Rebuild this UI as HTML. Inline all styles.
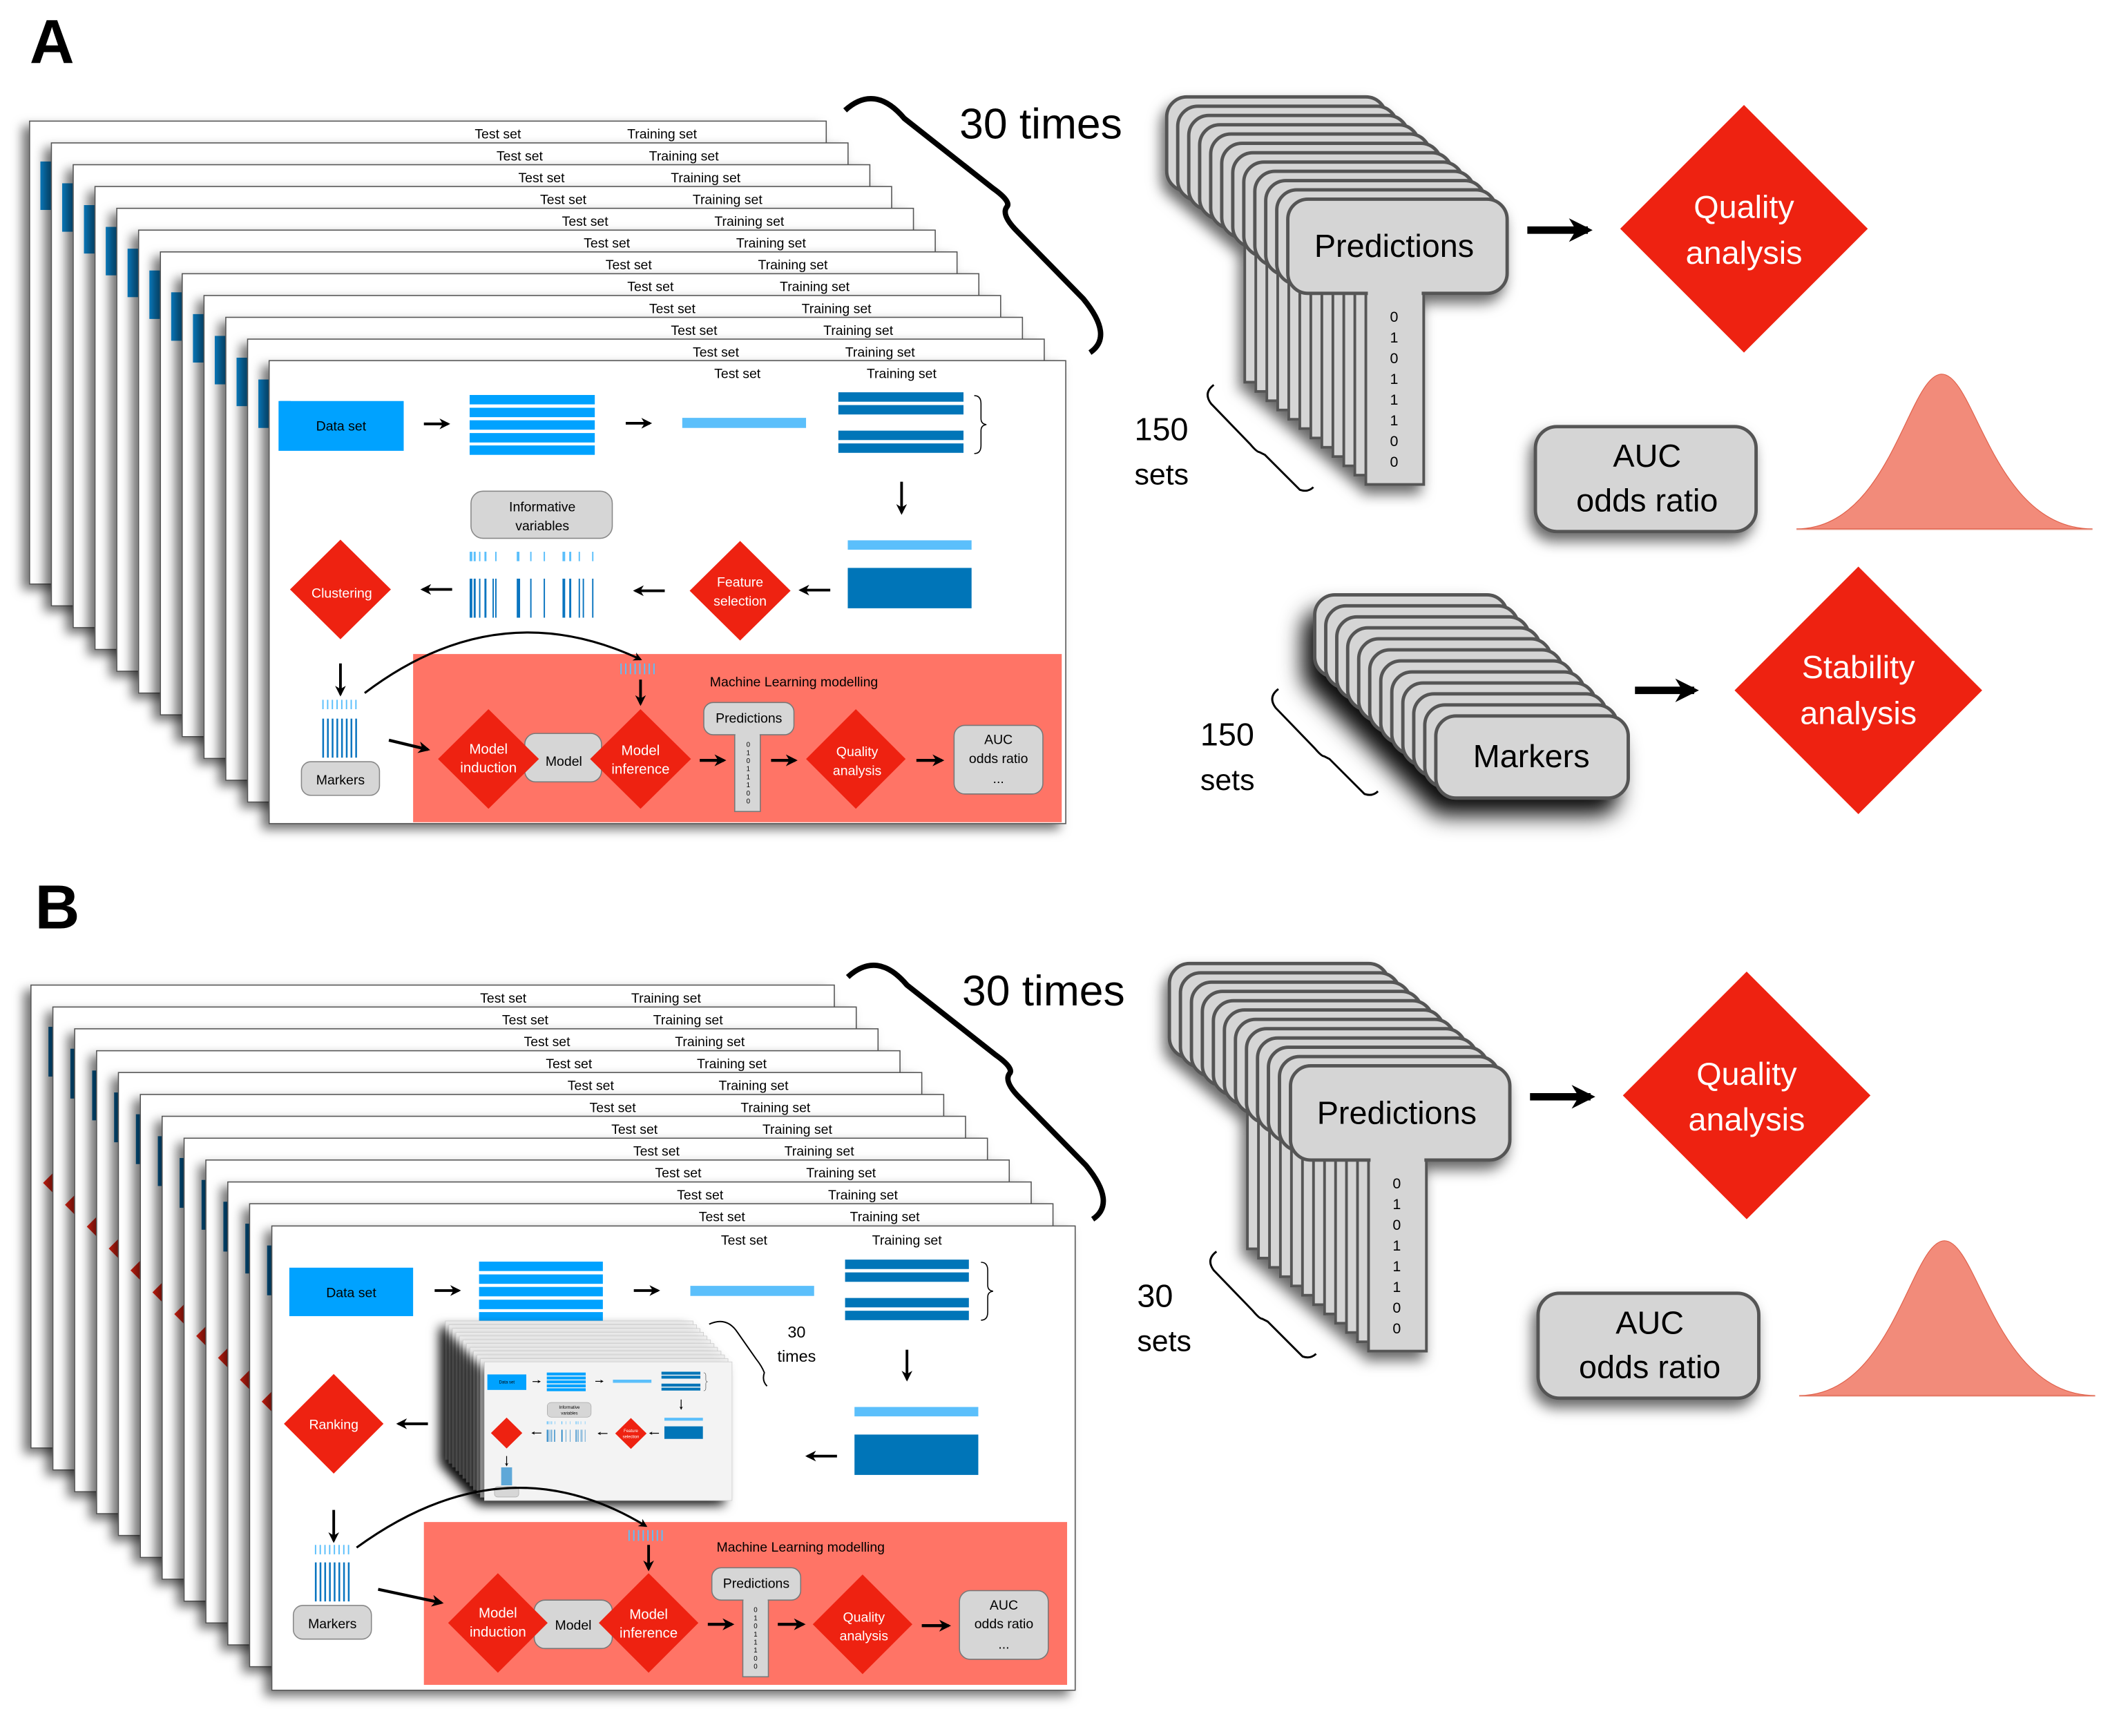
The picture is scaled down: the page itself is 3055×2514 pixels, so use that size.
<!DOCTYPE html>
<html><head><meta charset="utf-8">
<style>
html,body{margin:0;padding:0;background:#fff;}
svg{display:block;}
text{font-family:"Liberation Sans",sans-serif;}
</style></head>
<body>
<svg width="3055" height="2514" viewBox="0 0 1568 1290" preserveAspectRatio="none" xmlns="http://www.w3.org/2000/svg">
<defs>
<filter id="sh" x="-10%" y="-10%" width="120%" height="125%">
<feDropShadow dx="-5" dy="4" stdDeviation="4" flood-color="#000" flood-opacity="0.55"/>
</filter>
<filter id="sh2" x="-30%" y="-30%" width="160%" height="170%">
<feDropShadow dx="-3" dy="6" stdDeviation="5" flood-color="#000" flood-opacity="0.6"/>
</filter>
<filter id="sh3" x="-40%" y="-40%" width="180%" height="190%">
<feDropShadow dx="-8" dy="12" stdDeviation="8" flood-color="#000" flood-opacity="0.95"/>
</filter>
<marker id="ah" viewBox="0 0 10 10" refX="8" refY="5" markerWidth="4" markerHeight="4" orient="auto" markerUnits="strokeWidth">
<path d="M0,0 L10,5 L0,10 L3,5 Z" fill="#000"/>
</marker>
<marker id="ah2" viewBox="0 0 10 10" refX="8" refY="5" markerWidth="3.2" markerHeight="3.2" orient="auto" markerUnits="strokeWidth">
<path d="M0,0 L10,5 L0,10 L3,5 Z" fill="#000"/>
</marker>
<g id="cardA">
<rect x="0" y="0" width="592" height="344" fill="#fff" stroke="#555" stroke-width="0.8" filter="url(#sh)"/>
<rect x="8" y="30" width="8" height="36" fill="#0a86d0"/>
<text x="348" y="13" font-size="10" text-anchor="middle">Test  set</text>
<text x="470" y="13" font-size="10" text-anchor="middle">Training set</text>
</g>
<g id="cardB">
<rect x="0" y="0" width="597" height="344" fill="#fff" stroke="#555" stroke-width="0.8" filter="url(#sh)"/>
<rect x="13" y="31" width="4" height="37" fill="#0068a8"/>
<polygon points="46,110 83,147 46,184 9,147" fill="#e62212"/>
<text x="351" y="13" font-size="10" text-anchor="middle">Test  set</text>
<text x="472" y="13" font-size="10" text-anchor="middle">Training set</text>
</g>
<g id="pred">
<rect x="58" y="60" width="43" height="152" fill="#d5d5d5" stroke="#555" stroke-width="2"/>
<rect x="0" y="0" width="163" height="70" rx="15" fill="#d5d5d5" stroke="#555" stroke-width="2.5"/>
<rect x="59.5" y="66" width="40" height="8" fill="#d5d5d5"/>
</g>
<g id="mark">
<rect x="0" y="0" width="143" height="61" rx="15" fill="#d5d5d5" stroke="#555" stroke-width="2.5"/>
</g>
<g id="miniCard">
<rect x="0" y="0" width="184" height="103" fill="#f3f3f3" stroke="#ccc" stroke-width="0.4" filter="url(#sh)"/>
</g>
<g id="topA">
<rect x="207" y="298" width="93" height="37" fill="#00a2ff"/>
<text x="253.5" y="320" font-size="10" text-anchor="middle">Data set</text>
<line x1="315" y1="315" x2="333" y2="315" stroke="#000" stroke-width="2" marker-end="url(#ah)"/>
<g fill="#00a2ff">
<rect x="349" y="293.5" width="93" height="7"/><rect x="349" y="303" width="93" height="7"/><rect x="349" y="312.3" width="93" height="7"/><rect x="349" y="321.8" width="93" height="7"/><rect x="349" y="331" width="93" height="7"/>
</g>
<line x1="465" y1="314.5" x2="483" y2="314.5" stroke="#000" stroke-width="2" marker-end="url(#ah)"/>
<rect x="507" y="310.5" width="92" height="7.5" fill="#5bbffb"/>
<g fill="#0075b8">
<rect x="623" y="291.5" width="93" height="7"/><rect x="623" y="301" width="93" height="7"/><rect x="623" y="320" width="93" height="7"/><rect x="623" y="329.5" width="93" height="7"/>
</g>
<path d="M724,294 Q729,294 729,300 L729,311 Q729,315 733,315.5 Q729,316 729,320 L729,331 Q729,337 724,337" fill="none" stroke="#000" stroke-width="0.8"/>
<line x1="670" y1="358" x2="670" y2="381" stroke="#000" stroke-width="2" marker-end="url(#ah)"/>
<rect x="630" y="401.5" width="92" height="7" fill="#5bbffb"/>
<rect x="630" y="422" width="92" height="30" fill="#0075b8"/>
<line x1="617" y1="438.5" x2="595" y2="438.5" stroke="#000" stroke-width="2" marker-end="url(#ah)"/>
<polygon points="550,402 587.5,439 550,476 512.5,439" fill="#ee2211"/>
<text x="550" y="436" font-size="10" fill="#fff" text-anchor="middle">Feature</text>
<text x="550" y="450" font-size="10" fill="#fff" text-anchor="middle">selection</text>
<line x1="494" y1="439" x2="472" y2="439" stroke="#000" stroke-width="2" marker-end="url(#ah)"/>
<rect x="350" y="365" width="105" height="35" rx="9" fill="#d6d6d6" stroke="#888" stroke-width="0.8"/>
<text x="403" y="380" font-size="10" text-anchor="middle">Informative</text>
<text x="403" y="394" font-size="10" text-anchor="middle">variables</text>
<g fill="#5bbffb">
<rect x="349" y="410" width="2" height="7"/><rect x="352" y="410" width="1.5" height="7"/><rect x="356" y="410" width="1" height="7"/><rect x="360" y="410" width="1.5" height="7"/><rect x="368" y="410" width="1" height="7"/><rect x="384" y="410" width="2" height="7"/><rect x="394" y="410" width="1" height="7"/><rect x="404" y="410" width="1" height="7"/><rect x="418" y="410" width="2" height="7"/><rect x="423" y="410" width="1.5" height="7"/><rect x="430" y="410" width="1" height="7"/><rect x="440" y="410" width="1" height="7"/>
</g>
<g fill="#0a75c0">
<rect x="349" y="430" width="2" height="29"/><rect x="352" y="430" width="1.5" height="29"/><rect x="356" y="430" width="1" height="29"/><rect x="360" y="430" width="1.5" height="29"/><rect x="366" y="430" width="1" height="29"/><rect x="368" y="430" width="1" height="29"/><rect x="384" y="430" width="2.5" height="29"/><rect x="394" y="430" width="1" height="29"/><rect x="404" y="430" width="1" height="29"/><rect x="418" y="430" width="2" height="29"/><rect x="423" y="430" width="1.5" height="29"/><rect x="430" y="430" width="1" height="29"/><rect x="433" y="430" width="1" height="29"/><rect x="440" y="430" width="1" height="29"/>
</g>
<line x1="336" y1="438" x2="314" y2="438" stroke="#000" stroke-width="2" marker-end="url(#ah)"/>
</g>
<g id="bigBrace">
<path d="M628,82 Q650,62 672,88 L738,140 Q752,150 748,154 Q744,160 756,172 L805,222 Q828,250 810,262" fill="none" stroke="#000" stroke-width="4"/>
</g>
<g id="smallBrace">
<path d="M0,0 Q-8,6 -2,14 L27,44 Q32,50 34,50 Q34,50 38,52 L64,78 Q70,80 74,76" fill="none" stroke="#000" stroke-width="1.5"/>
</g>
<path id="gauss" d="M1335,393 C1405,393 1418,278 1443,278 C1468,278 1481,393 1555,393 Z"/>
</defs>

<!-- ================= PANEL A ================= -->
<text x="22" y="47" font-size="46" font-weight="bold">A</text>

<use href="#cardA" x="22" y="90"/>
<use href="#cardA" x="38.2" y="106.2"/>
<use href="#cardA" x="54.4" y="122.4"/>
<use href="#cardA" x="70.6" y="138.6"/>
<use href="#cardA" x="86.8" y="154.8"/>
<use href="#cardA" x="103" y="171"/>
<use href="#cardA" x="119.2" y="187.2"/>
<use href="#cardA" x="135.4" y="203.4"/>
<use href="#cardA" x="151.6" y="219.6"/>
<use href="#cardA" x="167.8" y="235.8"/>
<use href="#cardA" x="184" y="252"/>
<use href="#cardA" x="200" y="268"/>
<use href="#topA"/>

<polygon points="253,401 290.5,438 253,475 215.5,438" fill="#ee2211"/>
<text x="254" y="444" font-size="10" fill="#fff" text-anchor="middle">Clustering</text>
<line x1="253" y1="493" x2="253" y2="516" stroke="#000" stroke-width="2" marker-end="url(#ah)"/>
<g fill="#5bbffb"><rect x="239.5" y="520" width="1" height="7"/><rect x="243" y="520" width="1" height="7"/><rect x="246.5" y="520" width="1" height="7"/><rect x="250" y="520" width="1" height="7"/><rect x="253.5" y="520" width="1" height="7"/><rect x="257" y="520" width="1" height="7"/><rect x="260.5" y="520" width="1" height="7"/><rect x="264" y="520" width="1" height="7"/></g>
<g fill="#0a75c0"><rect x="239.5" y="534" width="1.3" height="29"/><rect x="243" y="534" width="1.3" height="29"/><rect x="246.5" y="534" width="1.3" height="29"/><rect x="250" y="534" width="1.3" height="29"/><rect x="253.5" y="534" width="1.3" height="29"/><rect x="257" y="534" width="1.3" height="29"/><rect x="260.5" y="534" width="1.3" height="29"/><rect x="264" y="534" width="1.3" height="29"/></g>
<rect x="224" y="566" width="58" height="25" rx="7" fill="#d6d6d6" stroke="#888" stroke-width="0.8"/>
<text x="253" y="583" font-size="10" text-anchor="middle">Markers</text>
<rect x="307" y="486" width="482" height="125" fill="#ff7466"/>
<path d="M271,515 Q370,440 476,490" fill="none" stroke="#000" stroke-width="1.6" marker-end="url(#ah)"/>
<g fill="#5bbffb"><rect x="461" y="493" width="1" height="8"/><rect x="464.5" y="493" width="1" height="8"/><rect x="468" y="493" width="1" height="8"/><rect x="471.5" y="493" width="1" height="8"/><rect x="475" y="493" width="1" height="8"/><rect x="478.5" y="493" width="1" height="8"/><rect x="482" y="493" width="1" height="8"/><rect x="485.5" y="493" width="1" height="8"/></g>
<line x1="476" y1="505" x2="476" y2="523" stroke="#000" stroke-width="2" marker-end="url(#ah)"/>
<text x="590" y="510" font-size="10" text-anchor="middle">Machine Learning modelling</text>
<line x1="289" y1="550" x2="318" y2="557" stroke="#000" stroke-width="2.2" marker-end="url(#ah)"/>
<rect x="390" y="545" width="57" height="36" rx="8" fill="#d6d6d6" stroke="#777" stroke-width="0.8"/>
<text x="419" y="569" font-size="10" text-anchor="middle">Model</text>
<polygon points="363,527 400.5,564 363,601 325.5,564" fill="#ee2211"/>
<text x="363" y="560" font-size="10.5" fill="#fff" text-anchor="middle">Model</text>
<text x="363" y="574" font-size="10.5" fill="#fff" text-anchor="middle">induction</text>
<polygon points="476,527 513.5,564 476,601 438.5,564" fill="#ee2211"/>
<text x="476" y="561" font-size="10.5" fill="#fff" text-anchor="middle">Model</text>
<text x="476" y="575" font-size="10.5" fill="#fff" text-anchor="middle">inference</text>
<line x1="520" y1="565" x2="538" y2="565" stroke="#000" stroke-width="2.2" marker-end="url(#ah)"/>
<rect x="546" y="540" width="19" height="63" fill="#d6d6d6" stroke="#777" stroke-width="0.8"/>
<rect x="523" y="522" width="67" height="24" rx="7" fill="#d6d6d6" stroke="#777" stroke-width="0.8"/>
<rect x="546.5" y="543" width="18" height="5" fill="#d6d6d6"/>
<text x="556.5" y="537" font-size="10" text-anchor="middle">Predictions</text>
<g font-size="5" text-anchor="middle"><text x="556" y="555">0</text><text x="556" y="561">1</text><text x="556" y="567">0</text><text x="556" y="573">1</text><text x="556" y="579">1</text><text x="556" y="585">1</text><text x="556" y="591">0</text><text x="556" y="597">0</text></g>
<line x1="573" y1="565" x2="591" y2="565" stroke="#000" stroke-width="2.2" marker-end="url(#ah)"/>
<polygon points="636,527 673,564 636,601 599,564" fill="#ee2211"/>
<text x="637" y="562" font-size="10" fill="#fff" text-anchor="middle">Quality</text>
<text x="637" y="576" font-size="10" fill="#fff" text-anchor="middle">analysis</text>
<line x1="681" y1="565" x2="700" y2="565" stroke="#000" stroke-width="2.2" marker-end="url(#ah)"/>
<rect x="709" y="539" width="66" height="51" rx="8" fill="#d6d6d6" stroke="#777" stroke-width="0.8"/>
<text x="742" y="553" font-size="10" text-anchor="middle">AUC</text>
<text x="742" y="567" font-size="10" text-anchor="middle">odds ratio</text>
<text x="742" y="582" font-size="10" text-anchor="middle">...</text>

<use href="#bigBrace"/>
<text x="713" y="103" font-size="32">30 times</text>

<g filter="url(#sh2)">
<use href="#pred" x="867" y="72"/>
<use href="#pred" x="875.2" y="78.9"/>
<use href="#pred" x="883.4" y="85.8"/>
<use href="#pred" x="891.5" y="92.7"/>
<use href="#pred" x="899.7" y="99.6"/>
<use href="#pred" x="907.9" y="106.5"/>
<use href="#pred" x="916.1" y="113.5"/>
<use href="#pred" x="924.3" y="120.4"/>
<use href="#pred" x="932.5" y="127.3"/>
<use href="#pred" x="940.6" y="134.2"/>
<use href="#pred" x="948.8" y="141.1"/>
<use href="#pred" x="957" y="148"/>
</g>
<text x="1036" y="191" font-size="24" text-anchor="middle">Predictions</text>
<g font-size="11" text-anchor="middle"><text x="1036" y="239">0</text><text x="1036" y="254.4">1</text><text x="1036" y="269.8">0</text><text x="1036" y="285.2">1</text><text x="1036" y="300.6">1</text><text x="1036" y="316">1</text><text x="1036" y="331.4">0</text><text x="1036" y="346.8">0</text></g>
<use href="#smallBrace" x="902" y="286"/>
<text x="843" y="327" font-size="24">150</text>
<text x="843" y="360" font-size="22">sets</text>

<line x1="1135" y1="171" x2="1180" y2="171" stroke="#000" stroke-width="5.5" marker-end="url(#ah2)"/>
<polygon points="1296,78 1388,170 1296,262 1204,170" fill="#ee2211"/>
<text x="1296" y="162" font-size="24" fill="#fff" text-anchor="middle">Quality</text>
<text x="1296" y="196" font-size="24" fill="#fff" text-anchor="middle">analysis</text>

<rect x="1141" y="317" width="164" height="78" rx="16" fill="#d5d5d5" stroke="#555" stroke-width="2.5" filter="url(#sh2)"/>
<text x="1224" y="347" font-size="24" text-anchor="middle">AUC</text>
<text x="1224" y="380" font-size="24" text-anchor="middle">odds ratio</text>
<use href="#gauss" fill="#f28b7a" stroke="#e0604a" stroke-width="0.6"/>
<line x1="1335" y1="393.5" x2="1555" y2="393.5" stroke="#e8a090" stroke-width="0.6"/>

<g filter="url(#sh3)">
<use href="#mark" x="977" y="442"/>
<use href="#mark" x="985.2" y="450.2"/>
<use href="#mark" x="993.4" y="458.4"/>
<use href="#mark" x="1001.5" y="466.5"/>
<use href="#mark" x="1009.7" y="474.7"/>
<use href="#mark" x="1017.9" y="482.9"/>
<use href="#mark" x="1026.1" y="491.1"/>
<use href="#mark" x="1034.3" y="499.3"/>
<use href="#mark" x="1042.5" y="507.5"/>
<use href="#mark" x="1050.6" y="515.6"/>
<use href="#mark" x="1058.8" y="523.8"/>
<use href="#mark" x="1067" y="532"/>
</g>
<text x="1138" y="570" font-size="24" text-anchor="middle">Markers</text>
<use href="#smallBrace" x="950" y="512"/>
<text x="892" y="554" font-size="24">150</text>
<text x="892" y="587" font-size="22">sets</text>
<line x1="1215" y1="513" x2="1259" y2="513" stroke="#000" stroke-width="5.5" marker-end="url(#ah2)"/>
<polygon points="1381,421 1473,513 1381,605 1289,513" fill="#ee2211"/>
<text x="1381" y="504" font-size="24" fill="#fff" text-anchor="middle">Stability</text>
<text x="1381" y="538" font-size="24" fill="#fff" text-anchor="middle">analysis</text>

<!-- ================= PANEL B ================= -->
<text x="26" y="690" font-size="46" font-weight="bold">B</text>

<use href="#cardB" x="23" y="732"/>
<use href="#cardB" x="39.3" y="748.3"/>
<use href="#cardB" x="55.5" y="764.5"/>
<use href="#cardB" x="71.8" y="780.8"/>
<use href="#cardB" x="88" y="797"/>
<use href="#cardB" x="104.3" y="813.3"/>
<use href="#cardB" x="120.5" y="829.5"/>
<use href="#cardB" x="136.8" y="845.8"/>
<use href="#cardB" x="153" y="862"/>
<use href="#cardB" x="169.3" y="878.3"/>
<use href="#cardB" x="185.5" y="894.5"/>
<g><rect x="202" y="911" width="597" height="345" fill="#fff" stroke="#555" stroke-width="0.8" filter="url(#sh)"/>
<text x="553" y="925" font-size="10" text-anchor="middle">Test  set</text>
<text x="674" y="925" font-size="10" text-anchor="middle">Training set</text></g>

<rect x="215" y="942" width="92" height="36" fill="#00a2ff"/>
<text x="261" y="964" font-size="10" text-anchor="middle">Data set</text>
<line x1="323" y1="959" x2="341" y2="959" stroke="#000" stroke-width="2" marker-end="url(#ah)"/>
<g fill="#00a2ff"><rect x="356" y="937.5" width="92" height="7"/><rect x="356" y="947" width="92" height="7"/><rect x="356" y="956.3" width="92" height="7"/><rect x="356" y="965.8" width="92" height="7"/><rect x="356" y="975" width="92" height="7"/></g>
<line x1="471" y1="959" x2="489" y2="959" stroke="#000" stroke-width="2" marker-end="url(#ah)"/>
<rect x="513" y="955.5" width="92" height="7.5" fill="#5bbffb"/>
<g fill="#0075b8"><rect x="628" y="936" width="92" height="7"/><rect x="628" y="945.5" width="92" height="7"/><rect x="628" y="964.5" width="92" height="7"/><rect x="628" y="974" width="92" height="7"/></g>
<path d="M729,938 Q734,938 734,944 L734,955 Q734,959 738,959.5 Q734,960 734,964 L734,975 Q734,981 729,981" fill="none" stroke="#000" stroke-width="0.8"/>
<line x1="674" y1="1003" x2="674" y2="1025" stroke="#000" stroke-width="2" marker-end="url(#ah)"/>
<rect x="635" y="1045.5" width="92" height="7" fill="#5bbffb"/>
<rect x="635" y="1066" width="92" height="30" fill="#0075b8"/>
<line x1="622" y1="1082" x2="600" y2="1082" stroke="#000" stroke-width="2" marker-end="url(#ah)"/>

<use href="#miniCard" x="331" y="981.6"/>
<use href="#miniCard" x="333.6" y="984.4"/>
<use href="#miniCard" x="336.2" y="987.2"/>
<use href="#miniCard" x="338.8" y="990"/>
<use href="#miniCard" x="341.4" y="992.8"/>
<use href="#miniCard" x="344" y="995.6"/>
<use href="#miniCard" x="346.6" y="998.4"/>
<use href="#miniCard" x="349.2" y="1001.2"/>
<use href="#miniCard" x="351.8" y="1004"/>
<use href="#miniCard" x="354.4" y="1006.8"/>
<use href="#miniCard" x="357" y="1009.6"/>
<use href="#miniCard" x="360" y="1012"/>
<g transform="translate(360,1012) scale(0.311) translate(-200,-268)">
<use href="#topA"/>
<polygon points="253,401 290.5,438 253,475 215.5,438" fill="#ee2211"/>
<line x1="253" y1="493" x2="253" y2="516" stroke="#000" stroke-width="2" marker-end="url(#ah)"/>
<rect x="224" y="566" width="58" height="25" rx="7" fill="#d6d6d6" stroke="#888" stroke-width="0.8"/>
<rect x="240" y="520" width="26" height="43" fill="#5fa8d8"/>
</g>
<path d="M527,984 Q540,978 548,990 L562,1010 Q566,1015 568,1020 Q566,1026 570,1030" fill="none" stroke="#000" stroke-width="1"/>
<text x="592" y="994" font-size="12" text-anchor="middle">30</text>
<text x="592" y="1012" font-size="12" text-anchor="middle">times</text>

<polygon points="248,1021 285,1058 248,1095 211,1058" fill="#ee2211"/>
<text x="248" y="1062" font-size="10" fill="#fff" text-anchor="middle">Ranking</text>
<line x1="318" y1="1058" x2="296" y2="1058" stroke="#000" stroke-width="2" marker-end="url(#ah)"/>
<line x1="248" y1="1122" x2="248" y2="1145" stroke="#000" stroke-width="2" marker-end="url(#ah)"/>
<g fill="#5bbffb"><rect x="234" y="1148" width="1" height="7"/><rect x="237.5" y="1148" width="1" height="7"/><rect x="241" y="1148" width="1" height="7"/><rect x="244.5" y="1148" width="1" height="7"/><rect x="248" y="1148" width="1" height="7"/><rect x="251.5" y="1148" width="1" height="7"/><rect x="255" y="1148" width="1" height="7"/><rect x="258.5" y="1148" width="1" height="7"/></g>
<g fill="#0a75c0"><rect x="234" y="1161" width="1.3" height="29"/><rect x="237.5" y="1161" width="1.3" height="29"/><rect x="241" y="1161" width="1.3" height="29"/><rect x="244.5" y="1161" width="1.3" height="29"/><rect x="248" y="1161" width="1.3" height="29"/><rect x="251.5" y="1161" width="1.3" height="29"/><rect x="255" y="1161" width="1.3" height="29"/><rect x="258.5" y="1161" width="1.3" height="29"/></g>
<rect x="218" y="1193" width="58" height="25" rx="7" fill="#d6d6d6" stroke="#888" stroke-width="0.8"/>
<text x="247" y="1210" font-size="10" text-anchor="middle">Markers</text>

<rect x="315" y="1131" width="478" height="121" fill="#ff7466"/>
<path d="M265,1150 Q375,1070 480,1134" fill="none" stroke="#000" stroke-width="1.6" marker-end="url(#ah)"/>
<g fill="#5bbffb"><rect x="467" y="1137" width="1" height="8"/><rect x="470.5" y="1137" width="1" height="8"/><rect x="474" y="1137" width="1" height="8"/><rect x="477.5" y="1137" width="1" height="8"/><rect x="481" y="1137" width="1" height="8"/><rect x="484.5" y="1137" width="1" height="8"/><rect x="488" y="1137" width="1" height="8"/><rect x="491.5" y="1137" width="1" height="8"/></g>
<line x1="482" y1="1148" x2="482" y2="1166" stroke="#000" stroke-width="2" marker-end="url(#ah)"/>
<text x="595" y="1153" font-size="10" text-anchor="middle">Machine Learning modelling</text>
<line x1="281" y1="1181" x2="328" y2="1191" stroke="#000" stroke-width="2.2" marker-end="url(#ah)"/>
<rect x="397" y="1189" width="58" height="36" rx="8" fill="#d6d6d6" stroke="#777" stroke-width="0.8"/>
<text x="426" y="1211" font-size="10" text-anchor="middle">Model</text>
<polygon points="370,1169 407,1206 370,1243 333,1206" fill="#ee2211"/>
<text x="370" y="1202" font-size="10.5" fill="#fff" text-anchor="middle">Model</text>
<text x="370" y="1216" font-size="10.5" fill="#fff" text-anchor="middle">induction</text>
<polygon points="482,1169 519,1206 482,1243 445,1206" fill="#ee2211"/>
<text x="482" y="1203" font-size="10.5" fill="#fff" text-anchor="middle">Model</text>
<text x="482" y="1217" font-size="10.5" fill="#fff" text-anchor="middle">inference</text>
<line x1="526" y1="1207" x2="544" y2="1207" stroke="#000" stroke-width="2.2" marker-end="url(#ah)"/>
<rect x="552" y="1184" width="19" height="62" fill="#d6d6d6" stroke="#777" stroke-width="0.8"/>
<rect x="529" y="1165" width="66" height="24" rx="7" fill="#d6d6d6" stroke="#777" stroke-width="0.8"/>
<rect x="552.5" y="1186" width="18" height="5" fill="#d6d6d6"/>
<text x="562" y="1180" font-size="10" text-anchor="middle">Predictions</text>
<g font-size="5" text-anchor="middle"><text x="561.5" y="1198">0</text><text x="561.5" y="1204">1</text><text x="561.5" y="1210">0</text><text x="561.5" y="1216">1</text><text x="561.5" y="1222">1</text><text x="561.5" y="1228">1</text><text x="561.5" y="1234">0</text><text x="561.5" y="1240">0</text></g>
<line x1="578" y1="1207" x2="597" y2="1207" stroke="#000" stroke-width="2.2" marker-end="url(#ah)"/>
<polygon points="641,1170 678,1207 641,1244 604,1207" fill="#ee2211"/>
<text x="642" y="1205" font-size="10" fill="#fff" text-anchor="middle">Quality</text>
<text x="642" y="1219" font-size="10" fill="#fff" text-anchor="middle">analysis</text>
<line x1="685" y1="1208" x2="705" y2="1208" stroke="#000" stroke-width="2.2" marker-end="url(#ah)"/>
<rect x="713" y="1182" width="66" height="51" rx="8" fill="#d6d6d6" stroke="#777" stroke-width="0.8"/>
<text x="746" y="1196" font-size="10" text-anchor="middle">AUC</text>
<text x="746" y="1210" font-size="10" text-anchor="middle">odds ratio</text>
<text x="746" y="1225" font-size="10" text-anchor="middle">...</text>

<use href="#bigBrace" x="2" y="644"/>
<text x="715" y="747" font-size="32">30 times</text>
<g filter="url(#sh2)">
<use href="#pred" x="869" y="716"/>
<use href="#pred" x="877.2" y="722.9"/>
<use href="#pred" x="885.4" y="729.8"/>
<use href="#pred" x="893.5" y="736.7"/>
<use href="#pred" x="901.7" y="743.6"/>
<use href="#pred" x="909.9" y="750.5"/>
<use href="#pred" x="918.1" y="757.5"/>
<use href="#pred" x="926.3" y="764.4"/>
<use href="#pred" x="934.5" y="771.3"/>
<use href="#pred" x="942.6" y="778.2"/>
<use href="#pred" x="950.8" y="785.1"/>
<use href="#pred" x="959" y="792"/>
</g>
<text x="1038" y="835" font-size="24" text-anchor="middle">Predictions</text>
<g font-size="11" text-anchor="middle"><text x="1038" y="883">0</text><text x="1038" y="898.4">1</text><text x="1038" y="913.8">0</text><text x="1038" y="929.2">1</text><text x="1038" y="944.6">1</text><text x="1038" y="960">1</text><text x="1038" y="975.4">0</text><text x="1038" y="990.8">0</text></g>
<use href="#smallBrace" x="904" y="930"/>
<text x="845" y="971" font-size="24">30</text>
<text x="845" y="1004" font-size="22">sets</text>
<line x1="1137" y1="815" x2="1182" y2="815" stroke="#000" stroke-width="5.5" marker-end="url(#ah2)"/>
<polygon points="1298,722 1390,814 1298,906 1206,814" fill="#ee2211"/>
<text x="1298" y="806" font-size="24" fill="#fff" text-anchor="middle">Quality</text>
<text x="1298" y="840" font-size="24" fill="#fff" text-anchor="middle">analysis</text>
<rect x="1143" y="961" width="164" height="78" rx="16" fill="#d5d5d5" stroke="#555" stroke-width="2.5" filter="url(#sh2)"/>
<text x="1226" y="991" font-size="24" text-anchor="middle">AUC</text>
<text x="1226" y="1024" font-size="24" text-anchor="middle">odds ratio</text>
<use href="#gauss" x="2" y="644" fill="#f28b7a" stroke="#e0604a" stroke-width="0.6"/>
<line x1="1337" y1="1037.5" x2="1557" y2="1037.5" stroke="#e8a090" stroke-width="0.6"/>
</svg>
</body></html>
